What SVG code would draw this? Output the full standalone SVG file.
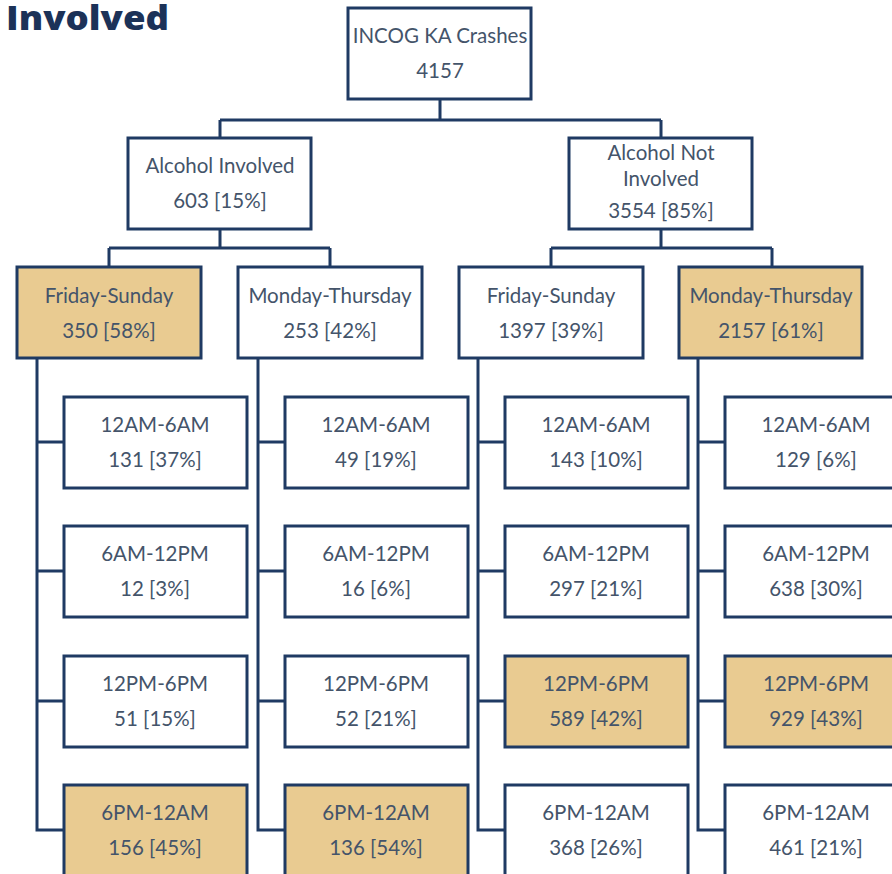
<svg xmlns="http://www.w3.org/2000/svg" width="892" height="874" viewBox="0 0 892 874">
<style>
.box{fill:#ffffff;stroke:#1f3a63;stroke-width:3}
.hl{fill:#e9cb91}
.t{font-family:Lato,"Liberation Sans",sans-serif;font-size:20.5px;fill:#44546a;text-anchor:middle}
.c{fill:none;stroke:#1f3a63;stroke-width:3}
.title{font-family:"Open Sans","Liberation Sans",sans-serif;font-weight:800;font-size:33px;fill:#1c3258}
</style>
<rect width="892" height="874" fill="#ffffff"/>
<text class="title" x="6" y="30" textLength="163" lengthAdjust="spacingAndGlyphs">Involved</text>
<g id="connectors">
<path class="c" d="M440 100V120M220 120H661M220 120V138M661 120V138"/>
<path class="c" d="M220 229V248M109 248H330M109 248V267M330 248V267"/>
<path class="c" d="M661 229V248M551 248H772M551 248V267M772 248V267"/>
<path class="c" d="M37 358V830H64M37 442H64M37 571H64M37 701H64"/>
<path class="c" d="M258 358V830H285M258 442H285M258 571H285M258 701H285"/>
<path class="c" d="M478 358V830H505M478 442H505M478 571H505M478 701H505"/>
<path class="c" d="M698 358V830H725M698 442H725M698 571H725M698 701H725"/>
</g>
<g id="root"><rect class="box" x="348" y="8" width="183" height="91"/><text class="t" x="440" y="43">INCOG KA Crashes</text><text class="t" x="440" y="78">4157</text></g>
<g id="alc"><rect class="box" x="128" y="138" width="183" height="91"/><text class="t" x="220" y="173">Alcohol Involved</text><text class="t" x="220" y="208">603 [15%]</text></g>
<g id="noalc"><rect class="box" x="569" y="138" width="183" height="91"/><text class="t" x="661" y="160">Alcohol Not</text><text class="t" x="661" y="186">Involved</text><text class="t" x="661" y="218">3554 [85%]</text></g>
<g id="fs1"><rect class="box hl" x="17" y="267" width="184" height="91"/><text class="t" x="109" y="303">Friday-Sunday</text><text class="t" x="109" y="338">350 [58%]</text></g>
<g id="mt1"><rect class="box" x="238" y="267" width="184" height="91"/><text class="t" x="330" y="303">Monday-Thursday</text><text class="t" x="330" y="338">253 [42%]</text></g>
<g id="fs2"><rect class="box" x="459" y="267" width="184" height="91"/><text class="t" x="551" y="303">Friday-Sunday</text><text class="t" x="551" y="338">1397 [39%]</text></g>
<g id="mt2"><rect class="box hl" x="679" y="267" width="183" height="91"/><text class="t" x="771" y="303">Monday-Thursday</text><text class="t" x="771" y="338">2157 [61%]</text></g>

<g id="c1r1"><rect class="box" x="64" y="397" width="183" height="91"/><text class="t" x="155" y="432">12AM-6AM</text><text class="t" x="155" y="467">131 [37%]</text></g>
<g id="c1r2"><rect class="box" x="64" y="526" width="183" height="91"/><text class="t" x="155" y="561">6AM-12PM</text><text class="t" x="155" y="596">12 [3%]</text></g>
<g id="c1r3"><rect class="box" x="64" y="656" width="183" height="91"/><text class="t" x="155" y="691">12PM-6PM</text><text class="t" x="155" y="726">51 [15%]</text></g>
<g id="c1r4"><rect class="box hl" x="64" y="785" width="183" height="92"/><text class="t" x="155" y="820">6PM-12AM</text><text class="t" x="155" y="855">156 [45%]</text></g>

<g id="c2r1"><rect class="box" x="285" y="397" width="183" height="91"/><text class="t" x="376" y="432">12AM-6AM</text><text class="t" x="376" y="467">49 [19%]</text></g>
<g id="c2r2"><rect class="box" x="285" y="526" width="183" height="91"/><text class="t" x="376" y="561">6AM-12PM</text><text class="t" x="376" y="596">16 [6%]</text></g>
<g id="c2r3"><rect class="box" x="285" y="656" width="183" height="91"/><text class="t" x="376" y="691">12PM-6PM</text><text class="t" x="376" y="726">52 [21%]</text></g>
<g id="c2r4"><rect class="box hl" x="285" y="785" width="183" height="92"/><text class="t" x="376" y="820">6PM-12AM</text><text class="t" x="376" y="855">136 [54%]</text></g>

<g id="c3r1"><rect class="box" x="505" y="397" width="183" height="91"/><text class="t" x="596" y="432">12AM-6AM</text><text class="t" x="596" y="467">143 [10%]</text></g>
<g id="c3r2"><rect class="box" x="505" y="526" width="183" height="91"/><text class="t" x="596" y="561">6AM-12PM</text><text class="t" x="596" y="596">297 [21%]</text></g>
<g id="c3r3"><rect class="box hl" x="505" y="656" width="183" height="91"/><text class="t" x="596" y="691">12PM-6PM</text><text class="t" x="596" y="726">589 [42%]</text></g>
<g id="c3r4"><rect class="box" x="505" y="785" width="183" height="92"/><text class="t" x="596" y="820">6PM-12AM</text><text class="t" x="596" y="855">368 [26%]</text></g>

<g id="c4r1"><rect class="box" x="725" y="397" width="183" height="91"/><text class="t" x="816" y="432">12AM-6AM</text><text class="t" x="816" y="467">129 [6%]</text></g>
<g id="c4r2"><rect class="box" x="725" y="526" width="183" height="91"/><text class="t" x="816" y="561">6AM-12PM</text><text class="t" x="816" y="596">638 [30%]</text></g>
<g id="c4r3"><rect class="box hl" x="725" y="656" width="183" height="91"/><text class="t" x="816" y="691">12PM-6PM</text><text class="t" x="816" y="726">929 [43%]</text></g>
<g id="c4r4"><rect class="box" x="725" y="785" width="183" height="92"/><text class="t" x="816" y="820">6PM-12AM</text><text class="t" x="816" y="855">461 [21%]</text></g>
</svg>
